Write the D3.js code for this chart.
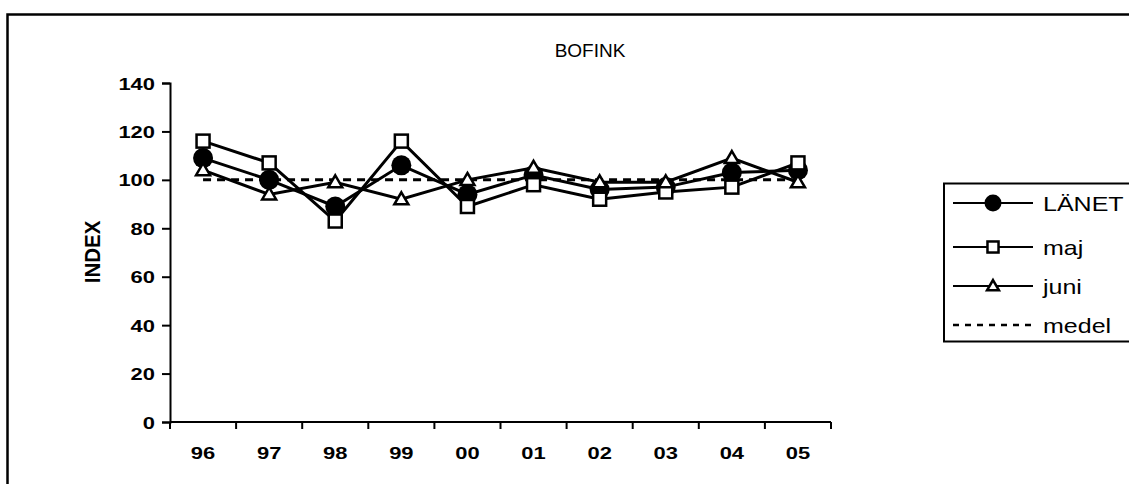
<!DOCTYPE html>
<html>
<head>
<meta charset="utf-8">
<script src="https://cdn.jsdelivr.net/npm/d3@7"></script>
<style>
  html, body { margin: 0; padding: 0; background: #fff; }
  svg { display: block; }
  text { font-family: "Liberation Sans", Arial, sans-serif; fill: #000; }
</style>
</head>
<body>
<svg id="chart" width="1129" height="484"></svg>
<script>
// Index values per year for the chaffinch (bofink) counts
const years = ["96", "97", "98", "99", "00", "01", "02", "03", "04", "05"];
const lanet = [109, 100, 89, 106, 94, 102, 96, 97, 103, 104];
const maj   = [116, 107, 83, 116, 89, 98, 92, 95, 97, 107];
const juni  = [104, 94, 99, 92, 100, 105, 99, 99, 109, 99];
const medel = [100, 100, 100, 100, 100, 100, 100, 100, 100, 100];
const yTicks = [0, 20, 40, 60, 80, 100, 120, 140];
const legendNames = ["LÄNET", "maj", "juni", "medel"];

const svg = d3.select("#chart");

// position a text element and stretch its glyphs
function place(sel, x, y, sx, rot, sy) {
  sel.attr("x", 0).attr("y", 0)
     .attr("transform", `translate(${x},${y})` + (rot ? ` rotate(${rot})` : "") + ` scale(${sx},${sy || 1})`);
  return sel;
}

// outer frame
svg.append("rect")
  .attr("x", 7.5).attr("y", 14.5).attr("width", 1140).attr("height", 480)
  .attr("fill", "none").attr("stroke", "#000").attr("stroke-width", 2.5);

// title
place(svg.append("text").text("BOFINK")
  .attr("font-size", 19).attr("text-anchor", "middle"), 590, 57, 1.0);

const x = d3.scaleBand().domain(years).range([170, 831]).padding(0);
const y = d3.scaleLinear().domain([0, 140]).range([422, 83]);
const cx = d => x(d) + x.bandwidth() / 2;

// y axis
const yAxis = svg.append("g").attr("transform", "translate(170,0)")
  .call(d3.axisLeft(y).tickValues(yTicks).tickSize(8).tickPadding(7));
yAxis.select(".domain").attr("stroke-width", 2);
yAxis.selectAll(".tick line").attr("stroke-width", 2);
yAxis.selectAll(".tick text").each(function () {
  d3.select(this)
    .attr("font-family", null).attr("font-size", 16.5).attr("font-weight", "bold")
    .attr("text-anchor", "end").attr("x", null).attr("y", null).attr("dy", null)
    .attr("transform", "translate(-15,6) scale(1.33,1)");
});

// x axis with ticks at category boundaries
const xAxisG = svg.append("g").attr("transform", "translate(0,422)");
xAxisG.append("line").attr("x1", 170).attr("x2", 831).attr("y1", 0).attr("y2", 0)
  .attr("stroke", "#000").attr("stroke-width", 2);
const bounds = years.map(d => x(d)).concat([x(years[years.length - 1]) + x.bandwidth()]);
xAxisG.selectAll("line.tk").data(bounds).join("line").attr("class", "tk")
  .attr("x1", d => d).attr("x2", d => d).attr("y1", 0).attr("y2", 7)
  .attr("stroke", "#000").attr("stroke-width", 2);
xAxisG.selectAll("text").data(years).join("text")
  .text(d => d).attr("font-size", 16.5).attr("font-weight", "bold").attr("text-anchor", "middle")
  .each(function (d) { place(d3.select(this), cx(d), 37, 1.33); });

// y axis title
place(svg.append("text").text("INDEX")
  .attr("font-size", 20.5).attr("font-weight", "bold").attr("text-anchor", "middle"),
  100, 252, 1, -90, 1.1);

const line = d3.line().x((v, i) => cx(years[i])).y(v => y(v));
const plot = svg.append("g");

// mean reference line
plot.append("path").attr("d", line(medel)).attr("fill", "none")
  .attr("stroke", "#000").attr("stroke-width", 3).attr("stroke-dasharray", "8,6");

const series = [
  { name: "LÄNET", values: lanet, marker: "circle" },
  { name: "maj", values: maj, marker: "square" },
  { name: "juni", values: juni, marker: "triangle" }
];

series.forEach(s => {
  plot.append("path").attr("d", line(s.values)).attr("fill", "none")
    .attr("stroke", "#000").attr("stroke-width", 3).attr("stroke-linejoin", "miter");
});

function drawMarker(g, type, px, py, scale) {
  if (type === "circle") {
    g.append("circle").attr("cx", px).attr("cy", py).attr("r", 10 * scale).attr("fill", "#000");
  } else if (type === "square") {
    const h = 6.5 * scale;
    g.append("rect").attr("x", px - h).attr("y", py - h).attr("width", 2 * h).attr("height", 2 * h)
      .attr("fill", "#fff").attr("stroke", "#000").attr("stroke-width", 2.5);
  } else {
    const w = 7 * scale, h = 12 * scale;
    g.append("path")
      .attr("d", `M${px},${py - h * 0.58} L${px + w},${py + h * 0.42} L${px - w},${py + h * 0.42} Z`)
      .attr("fill", "#fff").attr("stroke", "#000").attr("stroke-width", 2.5);
  }
}

series.forEach(s => {
  s.values.forEach((v, i) => drawMarker(plot, s.marker, cx(years[i]), y(v), 1));
});

// legend
const leg = svg.append("g");
leg.append("rect").attr("x", 944).attr("y", 183.5).attr("width", 200).attr("height", 158)
  .attr("fill", "#fff").attr("stroke", "#000").attr("stroke-width", 2);
const rowY = [203, 247, 286, 325];
const markers = ["circle", "square", "triangle", null];
legendNames.forEach((n, i) => {
  const ly = rowY[i];
  const l = leg.append("line").attr("x1", 953).attr("x2", 1033).attr("y1", ly).attr("y2", ly)
    .attr("stroke", "#000").attr("stroke-width", i === 3 ? 2.5 : 2);
  if (i === 3) l.attr("stroke-dasharray", "6,6");
  if (markers[i]) drawMarker(leg, markers[i], 993, ly, 0.85);
  place(leg.append("text").text(n).attr("font-size", 20.5), 1043, ly + 7.5, 1.22);
});
</script>
</body>
</html>
